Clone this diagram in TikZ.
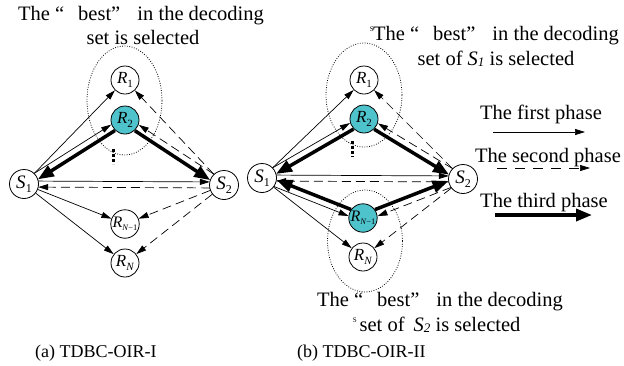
\documentclass[tikz,border=0pt]{standalone}
\usepackage{fontspec}
\setmainfont{Liberation Serif}
\usetikzlibrary{arrows.meta,calc}
\definecolor{relayfill}{RGB}{79,195,204}

% node label: italic letter with a lowered index
\newcommand\lbl[3]{\textit{#1}\raisebox{-3.5pt}{\fontsize{#3}{#3}\selectfont #2}}
% "best" phrase with wide quote marks
\newcommand\bestline{The “\hspace{14pt}best”\hspace{12pt} in the decoding}

\begin{document}
\begin{tikzpicture}[x=1pt,y=-1pt,
  term/.style={circle,draw,fill=white,line width=0.8pt,minimum size=29pt,inner sep=0pt,
    font=\fontsize{19}{19}\selectfont},
  relay/.style={circle,draw,fill=white,line width=0.8pt,minimum size=28pt,inner sep=0pt,
    font=\fontsize{17}{17}\selectfont},
  chosen/.style={relay,fill=relayfill},
  p1/.style={draw,line width=0.7pt,-{Triangle[length=10pt,width=6pt]}},
  p2/.style={p1,dash pattern=on 9pt off 5pt},
  p3/.style={draw,line width=3.5pt,-{Triangle[length=16pt,width=12pt]}},
  offs/.style={shorten <=14.2pt,shorten >=14.2pt},
  grp/.style={draw,line width=0.8pt,dash pattern=on 0.8pt off 1.6pt},
  vdots/.style={draw,line width=3pt,dash pattern=on 3pt off 2pt},
  ann/.style={font=\fontsize{20.5}{24}\selectfont,anchor=base,inner sep=0pt},
  markS/.style={font=\fontsize{7}{7}\selectfont,anchor=base east,inner sep=0pt},
  captxt/.style={font=\fontsize{18}{20}\selectfont,anchor=base west,inner sep=0pt}]
\useasboundingbox (0,0) rectangle (624,365);

% ---------------- (a) TDBC-OIR-I ----------------
\draw[grp] (124.5,100.5) ellipse [x radius=37.5pt, y radius=54.5pt];
\draw[vdots] (113,149) -- (113,164);

\node[term] (aS1) at (24,184) {\lbl{S}{1}{12}};
\node[term] (aS2) at (224,185) {\lbl{S}{2}{12}};
\node[relay] (aR1) at (125,80) {\lbl{R}{1}{11}};
\node[chosen] (aR2) at (125,120) {\lbl{R}{2}{11}};
\node[relay] (aRa) at (125,224) {\fontsize{16}{16}\selectfont\lbl{R}{\textit{N}−1}{8.5}};
\node[relay] (aRb) at (125,263) {\lbl{R}{\textit{N}}{11}};

\draw[p1] (aS1) -- (aR1);
\draw[p2] (aS2) -- (aR1);
\draw[p1,offs] ($(aS1)!3.5pt!90:(aR2)$) -- ($(aR2)!3.5pt!-90:(aS1)$);
\draw[p3,offs] ($(aR2)!3.5pt!90:(aS1)$) -- ($(aS1)!3.5pt!-90:(aR2)$);
\draw[p3,offs] ($(aR2)!3.5pt!-90:(aS2)$) -- ($(aS2)!3.5pt!90:(aR2)$);
\draw[p2,offs] ($(aS2)!3.5pt!-90:(aR2)$) -- ($(aR2)!3.5pt!90:(aS2)$);
\draw[p1,offs] ($(aS1)!3pt!90:(aS2)$) -- ($(aS2)!3pt!-90:(aS1)$);
\draw[p2,offs] ($(aS2)!3pt!90:(aS1)$) -- ($(aS1)!3pt!-90:(aS2)$);
\draw[p1] (aS1) -- (aRa);
\draw[p1] (aS1) -- (aRb);
\draw[p2] (aS2) -- (aRa);
\draw[p2] (aS2) -- (aRb);

\node[ann] (aT1) at (141,20) {\bestline};
\node[ann] (aT2) at (143,44) {set is selected};
\node[captxt] (aCap) at (35,357) {(a) TDBC-OIR-I};

% ---------------- (b) TDBC-OIR-II ----------------
\draw[grp] (364,95) ellipse [x radius=38pt, y radius=52pt];
\draw[grp] (365,241) ellipse [x radius=37.5pt, y radius=51pt];
\draw[vdots] (352,141) -- (352,157);

\node[term] (bS1) at (262,178) {\lbl{S}{1}{12}};
\node[term] (bS2) at (463,179) {\lbl{S}{2}{12}};
\node[relay] (bR1) at (364,80) {\lbl{R}{1}{11}};
\node[chosen] (bR2) at (364,119) {\lbl{R}{2}{11}};
\node[chosen] (bRa) at (363,218) {\fontsize{16}{16}\selectfont\lbl{R}{\textit{N}−1}{8.5}};
\node[relay] (bRb) at (363,257) {\lbl{R}{\textit{N}}{11}};

\draw[p1] (bS1) -- (bR1);
\draw[p2] (bS2) -- (bR1);
\draw[p1,offs] ($(bS1)!3.5pt!90:(bR2)$) -- ($(bR2)!3.5pt!-90:(bS1)$);
\draw[p3,offs] ($(bR2)!3.5pt!90:(bS1)$) -- ($(bS1)!3.5pt!-90:(bR2)$);
\draw[p3,offs] ($(bR2)!3.5pt!-90:(bS2)$) -- ($(bS2)!3.5pt!90:(bR2)$);
\draw[p2,offs] ($(bS2)!3.5pt!-90:(bR2)$) -- ($(bR2)!3.5pt!90:(bS2)$);
\draw[p1,offs] ($(bS1)!3pt!90:(bS2)$) -- ($(bS2)!3pt!-90:(bS1)$);
\draw[p2,offs] ($(bS2)!3pt!90:(bS1)$) -- ($(bS1)!3pt!-90:(bS2)$);
\draw[p1,offs] ($(bS1)!3.5pt!-90:(bRa)$) -- ($(bRa)!3.5pt!90:(bS1)$);
\draw[p3,offs] ($(bRa)!3.5pt!-90:(bS1)$) -- ($(bS1)!3.5pt!90:(bRa)$);
\draw[p3,offs] ($(bRa)!3.5pt!90:(bS2)$) -- ($(bS2)!3.5pt!-90:(bRa)$);
\draw[p2,offs] ($(bS2)!3.5pt!90:(bRa)$) -- ($(bRa)!3.5pt!-90:(bS2)$);
\draw[p1] (bS1) -- (bRb);
\draw[p2] (bS2) -- (bRb);

\node[ann] (bT1) at (496,40) {\bestline};
\node[ann] (bT2) at (496,65) {set of \textit{S}\raisebox{-1pt}{\fontsize{13}{13}\selectfont\textit{1}} is selected};
\node[markS] (bM1) at (374,31) {S};
\node[ann] (bT3) at (440,306) {\bestline};
\node[ann] (bT4) at (440,331) {set of \hspace{4pt}\textit{S}\raisebox{-1pt}{\fontsize{13}{13}\selectfont\textit{2}} is selected};
\node[markS] (bM2) at (357,322) {S};
\node[captxt] (bCap) at (297,357) {(b) TDBC-OIR-II};

% ---------------- legend ----------------
\coordinate (l1a) at (493,132); \coordinate (l1b) at (585,132);
\coordinate (l2a) at (497,168); \coordinate (l2b) at (590,168);
\coordinate (l3a) at (495,215); \coordinate (l3b) at (592,215);
\node[ann] (lt1) at (541,119) {The first phase};
\node[ann] (lt2) at (548,162) {The second phase};
\node[ann] (lt3) at (544,207) {The third phase};
\draw[p1] (l1a) -- (l1b);
\draw[p1,dash pattern=on 10pt off 8pt] (l2a) -- (l2b);
\draw[p3] (l3a) -- (l3b);
\end{tikzpicture}
\end{document}
